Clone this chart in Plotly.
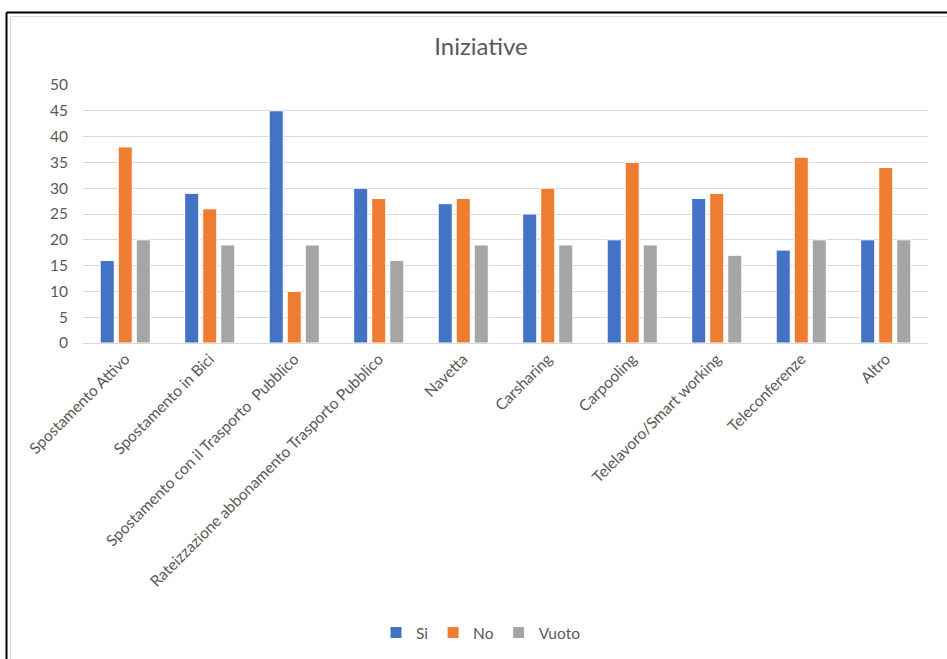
import plotly.graph_objects as go

categories = ["Spostamento Attivo", "Spostamento in Bici", "Spostamento con il Trasporto  Pubblico",
              "Rateizzazione abbonamento Trasporto Pubblico", "Navetta", "Carsharing", "Carpooling",
              "Telelavoro/Smart working", "Teleconferenze", "Altro"]
si = [16, 29, 45, 30, 27, 25, 20, 28, 18, 20]
no = [38, 26, 10, 28, 28, 30, 35, 29, 36, 34]
vuoto = [20, 19, 19, 16, 19, 19, 19, 17, 20, 20]
y_ticks = [0, 5, 10, 15, 20, 25, 30, 35, 40, 45, 50]

W, H = 947, 659
FONT = "Lato, 'Open Sans', sans-serif"
TXT = "#595959"

fig = go.Figure()
for name, vals, col in [("Si", si, "#4472C4"), ("No", no, "#ED7D31"), ("Vuoto", vuoto, "#A5A5A5")]:
    fig.add_trace(go.Bar(x=categories, y=vals, name=name, marker=dict(color=col, line=dict(color="white", width=1))))

def px(x):
    return x / W

def py(y):
    return 1 - y / H

fig.update_layout(
    width=W, height=H,
    margin=dict(l=0, r=0, t=0, b=0),
    paper_bgcolor="white", plot_bgcolor="white",
    font=dict(family=FONT, color=TXT, size=15),
    barmode="group", bargap=0.36, bargroupgap=0.22,
    title=dict(text="Iniziative", x=px(481), xanchor="center", y=py(47), yanchor="middle",
               font=dict(size=24, color=TXT, family=FONT)),
    xaxis=dict(domain=[px(83), px(928)], tickangle=-45, showline=True, linecolor="#D9D9D9",
               linewidth=1, showgrid=False, ticks="", tickfont=dict(size=15.5, color=TXT), automargin=False),
    yaxis=dict(domain=[py(343), py(85)], range=[0, 50], tickvals=y_ticks, showgrid=True,
               gridcolor="#D9D9D9", gridwidth=1, zeroline=False, ticks="", ticklabelstandoff=14,
               tickfont=dict(size=15.5, color=TXT), automargin=False),
    showlegend=True,
    legend=dict(orientation="h", x=px(481), xanchor="center", y=py(633), yanchor="middle",
                font=dict(size=15.5, color=TXT), itemwidth=30, traceorder="normal"),
    shapes=[
        dict(type="line", xref="paper", yref="paper", x0=px(6.5), x1=1.01, y0=py(12.5), y1=py(12.5),
             line=dict(color="black", width=2)),
        dict(type="line", xref="paper", yref="paper", x0=px(6.5), x1=px(6.5), y0=py(12.5), y1=-0.01,
             line=dict(color="black", width=2)),
        dict(type="line", xref="paper", yref="paper", x0=px(10.5), x1=1.01, y0=py(16.5), y1=py(16.5),
             line=dict(color="#D9D9D9", width=1)),
        dict(type="line", xref="paper", yref="paper", x0=px(10.5), x1=px(10.5), y0=py(16.5), y1=-0.01,
             line=dict(color="#D9D9D9", width=1)),
    ],
)

fig.write_html("out.html", config={"displayModeBar": False},
               post_script="document.body.style.margin='0px';document.body.style.overflow='hidden';")
